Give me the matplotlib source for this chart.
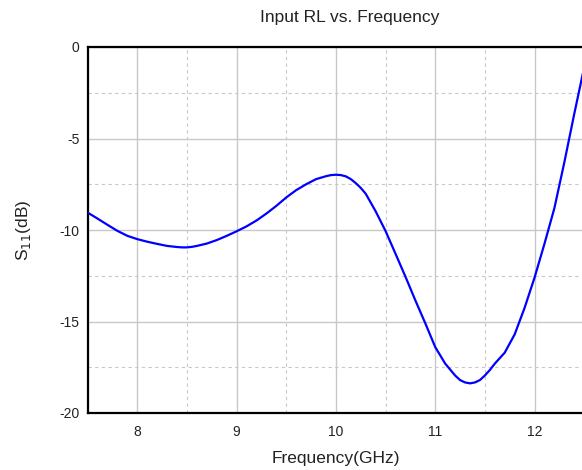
import matplotlib
matplotlib.use("Agg")
import matplotlib.pyplot as plt
from matplotlib.ticker import MultipleLocator

freq_ghz = [7.5, 7.6, 7.7, 7.8, 7.9, 8.0, 8.1, 8.2, 8.3, 8.4, 8.45, 8.5, 8.55, 8.6, 8.7,
            8.8, 8.9, 9.0, 9.1, 9.2, 9.3, 9.4, 9.5, 9.6, 9.7, 9.8, 9.9, 9.95, 10.0,
            10.05, 10.1, 10.15, 10.2, 10.25, 10.3, 10.4, 10.5, 10.6, 10.7, 10.8, 10.9,
            11.0, 11.1, 11.2, 11.25, 11.3, 11.35, 11.4, 11.45, 11.5, 11.55, 11.6, 11.7,
            11.8, 11.9, 12.0, 12.1, 12.2, 12.3, 12.4, 12.5]
s11_db = [-9.05, -9.38, -9.72, -10.05, -10.32, -10.50, -10.64, -10.76, -10.87, -10.93,
          -10.95, -10.95, -10.92, -10.87, -10.74, -10.55, -10.32, -10.07, -9.80, -9.48,
          -9.10, -8.68, -8.22, -7.82, -7.50, -7.22, -7.06, -7.00, -6.98, -7.00,
          -7.07, -7.22, -7.44, -7.70, -8.02, -8.98, -10.06, -11.30, -12.55, -13.85,
          -15.10, -16.40, -17.30, -17.95, -18.20, -18.33, -18.38, -18.33, -18.20, -17.95,
          -17.65, -17.30, -16.70, -15.70, -14.25, -12.60, -10.75, -8.80, -6.30, -3.65,
          -1.10]

x_ticks = [8, 9, 10, 11, 12]
y_ticks = [0, -5, -10, -15, -20]

plt.rcParams['font.family'] = ['Liberation Sans', 'DejaVu Sans']
plt.rcParams['axes.unicode_minus'] = False

fig = plt.figure(figsize=(5.82, 4.70), dpi=100)
ax = fig.add_axes([87.7/582, 1-413/470, 496.5/582, 366/470])

ax.plot(freq_ghz, s11_db, color='#0000ff', lw=1.6, zorder=3,
        solid_joinstyle='round', solid_capstyle='round')

ax.set_xlim(7.5, 12.5)
ax.set_ylim(-20, 0)
ax.set_xticks(x_ticks)
ax.set_yticks(y_ticks)
ax.xaxis.set_minor_locator(MultipleLocator(0.5))
ax.yaxis.set_minor_locator(MultipleLocator(2.5))
ax.grid(which='major', color='#c8c8c8', lw=1.0, ls='-')
ax.grid(which='minor', color='#c8c8c8', lw=0.8, ls=(0, (3, 3)))
ax.set_axisbelow(True)
ax.tick_params(which='both', length=0, labelsize=10, colors='#222222')
ax.tick_params(axis='x', pad=9)
ax.tick_params(axis='y', pad=6)

for s in ['left', 'bottom', 'top']:
    ax.spines[s].set_linewidth(1.6)
    ax.spines[s].set_color('black')
ax.spines['right'].set_visible(False)

ax.set_title('Input RL vs. Frequency', fontsize=12.5, pad=18, color='#222222',
             x=(350 - 87.7) / 496.5)
ax.set_xlabel('Frequency(GHz)', fontsize=12.5, labelpad=8, color='#222222')
ax.set_ylabel(r'S$_{11}$(dB)', fontsize=12.5, labelpad=19, color='#222222')

fig.savefig('out.png', dpi=100)
